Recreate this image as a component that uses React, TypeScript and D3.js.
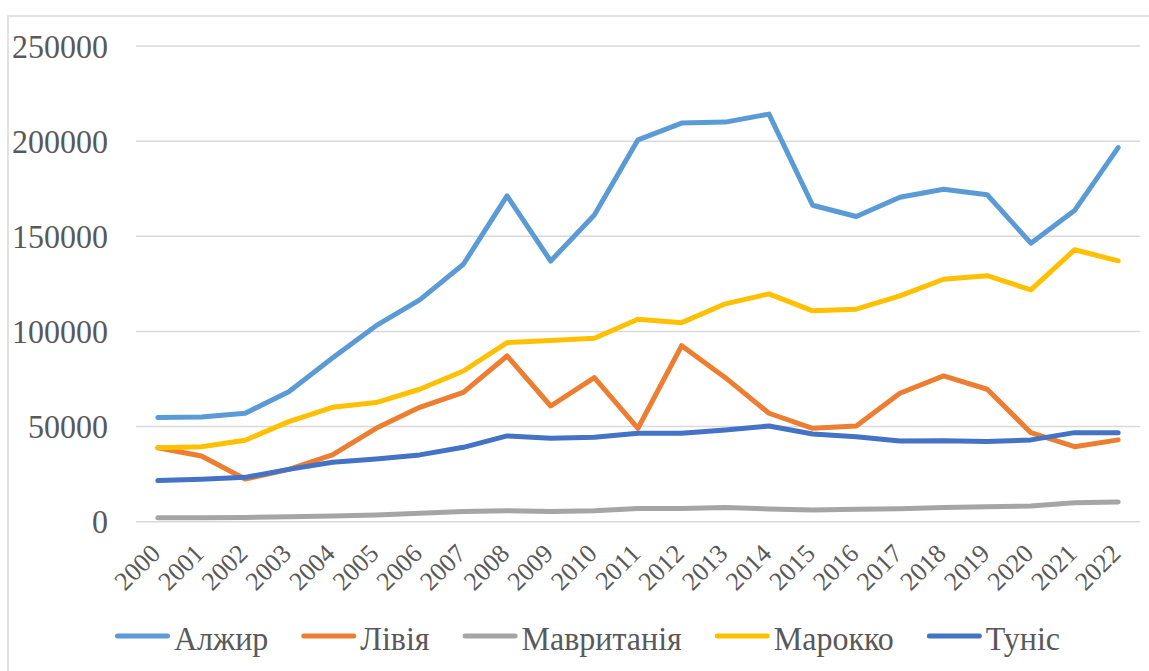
import React, { useEffect, useRef, useState } from "react";
import * as d3 from "d3";

const years = [
  "2000", "2001", "2002", "2003", "2004", "2005", "2006", "2007", "2008", "2009", "2010",
  "2011", "2012", "2013", "2014", "2015", "2016", "2017", "2018", "2019", "2020", "2021", "2022",
];

const algeria = [
  54700, 55000, 57000, 68300, 86000, 103000, 116600, 135300, 171200, 137000, 161200,
  200700, 209500, 210000, 214200, 166300, 160400, 170500, 174700, 171800, 146400, 163500, 196600,
];
const libya = [
  38900, 34500, 22400, 27500, 35100, 49100, 60100, 68000, 87100, 60800, 75700,
  49100, 92500, 75700, 57000, 49100, 50300, 67500, 76600, 69600, 46800, 39400, 43000,
];
const mauritania = [
  2100, 2100, 2200, 2600, 3000, 3500, 4400, 5300, 5800, 5300, 5800,
  7000, 7000, 7400, 6700, 6200, 6500, 6800, 7400, 7900, 8300, 10000, 10400,
];
const morocco = [
  38900, 39400, 42800, 52600, 60100, 62600, 69600, 79200, 94100, 95200, 96400,
  106400, 104600, 114500, 119700, 110800, 111700, 118700, 127400, 129300, 121800, 142900, 137100,
];
const tunisia = [
  21600, 22300, 23300, 27500, 31200, 33000, 35100, 39100, 45100, 43800, 44400,
  46500, 46500, 48200, 50300, 46100, 44700, 42400, 42600, 42100, 43000, 46800, 46800,
];

const seriesNames = ["Алжир", "Лівія", "Мавританія", "Марокко", "Туніс"];
const seriesColors = ["#5B9BD5", "#ED7D31", "#A5A5A5", "#FFC000", "#4472C4"];
const seriesValues = [algeria, libya, mauritania, morocco, tunisia];
const yTicks = [0, 50000, 100000, 150000, 200000, 250000];

const W = 1149;
const H = 671;
const plotLeft = 136;
const plotRight = 1140;
const plotTop = 46;
const plotBottom = 521.7;
const FONT = "'Liberation Serif', 'Times New Roman', serif";
const TEXT_COLOR = "#595959";

export default function App() {
  const x = d3.scalePoint<string>().domain(years).range([plotLeft, plotRight]).padding(0.5);
  const y = d3.scaleLinear().domain([0, 250000]).range([plotBottom, plotTop]);
  const line = d3
    .line<number>()
    .x((_, i) => x(years[i]) as number)
    .y((d) => y(d));

  const legendRefs = useRef<(SVGTextElement | null)[]>([]);
  const [widths, setWidths] = useState<number[]>([91, 65, 159, 121, 70]);

  useEffect(() => {
    const w = legendRefs.current.map((el, i) => (el ? el.getComputedTextLength() : widths[i]));
    setWidths(w);
    // eslint-disable-next-line
  }, []);

  const lineLen = 55;
  const textGap = 4;
  const itemGap = 33;
  const total = widths.reduce((s, w) => s + lineLen + textGap + w, 0) + itemGap * (widths.length - 1);
  const legendCenter = 587.5;
  let cursor = legendCenter - total / 2;
  const legendItems = widths.map((w) => {
    const start = cursor;
    cursor += lineLen + textGap + w + itemGap;
    return start;
  });
  const legendY = 636;

  return (
    <div style={{ position: "absolute", left: 0, top: 0 }}>
      <svg width={W} height={H} style={{ display: "block", background: "#fff" }}>
        <rect x={8} y={16} width={W + 20} height={H + 20} fill="#fff" stroke="#d9d9d9" strokeWidth={1.5} />
        {yTicks.map((t) => (
          <line key={"g" + t} x1={plotLeft} x2={plotRight} y1={y(t)} y2={y(t)} stroke="#d9d9d9" strokeWidth={1.5} />
        ))}
        {yTicks.map((t) => (
          <g key={"yl" + t} transform={`translate(108,${y(t) + 11.7}) scale(1,1.08)`}>
            <text textAnchor="end" fontFamily={FONT} fontSize={32} fill={TEXT_COLOR}>
              {t}
            </text>
          </g>
        ))}
        {years.map((yr) => (
          <g key={"xl" + yr} transform={`translate(${(x(yr) as number) + 4},555) rotate(-45)`}>
            <text textAnchor="end" fontFamily={FONT} fontSize={26} fill={TEXT_COLOR}>
              {yr}
            </text>
          </g>
        ))}
        {seriesValues.map((vals, i) => (
          <path
            key={"s" + i}
            d={line(vals) || ""}
            fill="none"
            stroke={seriesColors[i]}
            strokeWidth={5}
            strokeLinejoin="round"
            strokeLinecap="round"
          />
        ))}
        {seriesNames.map((name, i) => (
          <g key={"lg" + i}>
            <line
              x1={legendItems[i] + 2.5}
              x2={legendItems[i] + lineLen - 2.5}
              y1={legendY}
              y2={legendY}
              stroke={seriesColors[i]}
              strokeWidth={5}
              strokeLinecap="round"
            />
            <g transform={`translate(${legendItems[i] + lineLen + textGap},650) scale(1,1.08)`}>
              <text
                ref={(el) => {
                  legendRefs.current[i] = el;
                }}
                fontFamily={FONT}
                fontSize={32}
                fill={TEXT_COLOR}
              >
                {name}
              </text>
            </g>
          </g>
        ))}
      </svg>
    </div>
  );
}
